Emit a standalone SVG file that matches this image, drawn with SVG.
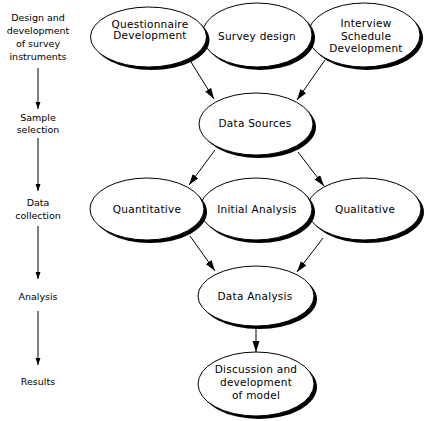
<svg xmlns="http://www.w3.org/2000/svg" width="429" height="421" viewBox="0 0 429 421">
<defs>
<style>
.sh{fill:#000}
.nd{fill:#fff;stroke:#000;stroke-width:1}
.t{font-family:"DejaVu Sans",sans-serif;font-size:10.5px;letter-spacing:0.25px;fill:#000;text-anchor:middle}
.l{font-family:"DejaVu Sans",sans-serif;font-size:9.5px;fill:#000;text-anchor:middle}
.c{stroke:#000;stroke-width:1;fill:none}
</style>
<marker id="ah" markerUnits="userSpaceOnUse" markerWidth="12" markerHeight="8" refX="11" refY="3.5" orient="auto"><path d="M0,0 L11,3.5 L0,7 z" fill="#000"/></marker>
<marker id="as" markerUnits="userSpaceOnUse" markerWidth="8" markerHeight="6" refX="7" refY="2.5" orient="auto"><path d="M0,0 L7,2.5 L0,5 z" fill="#000"/></marker>
</defs>
<rect width="429" height="421" fill="#fff"/>
<g id="stages">
<text class="l" x="38" y="21">Design and</text>
<text class="l" x="38" y="34">development</text>
<text class="l" x="38" y="47">of survey</text>
<text class="l" x="38" y="60">instruments</text>
<text class="l" x="38" y="121">Sample</text>
<text class="l" x="38" y="133">selection</text>
<text class="l" x="38" y="206">Data</text>
<text class="l" x="38" y="219">collection</text>
<text class="l" x="38" y="300">Analysis</text>
<text class="l" x="38" y="385">Results</text>
<line class="c" x1="38" y1="68" x2="38" y2="109" marker-end="url(#as)"/>
<line class="c" x1="38" y1="138" x2="38" y2="191" marker-end="url(#as)"/>
<line class="c" x1="38" y1="226" x2="38" y2="279" marker-end="url(#as)"/>
<line class="c" x1="38" y1="311" x2="38" y2="365" marker-end="url(#as)"/>
</g>
<g id="interview">
<ellipse class="sh" cx="367" cy="38" rx="56" ry="32"/>
<ellipse class="nd" cx="364" cy="35" rx="56" ry="32"/>
<text class="t" x="366" y="27">Interview</text>
<text class="t" x="366" y="40">Schedule</text>
<text class="t" x="366" y="52">Development</text>
</g>
<g id="survey">
<ellipse class="sh" cx="260" cy="38" rx="55" ry="32"/>
<ellipse class="nd" cx="257" cy="35" rx="55" ry="32"/>
<text class="t" x="257" y="40">Survey design</text>
</g>
<g id="questionnaire">
<ellipse class="sh" cx="151.5" cy="40" rx="58" ry="30"/>
<ellipse class="nd" cx="148.5" cy="37" rx="58" ry="30"/>
<text class="t" x="150" y="28">Questionnaire</text>
<text class="t" x="150" y="39">Development</text>
</g>
<g id="datasources">
<ellipse class="sh" cx="259" cy="127" rx="57" ry="31"/>
<ellipse class="nd" cx="256" cy="124" rx="57" ry="31"/>
<text class="t" x="255" y="127">Data Sources</text>
</g>
<g id="qualitative">
<ellipse class="sh" cx="367" cy="212" rx="57" ry="31"/>
<ellipse class="nd" cx="364" cy="209" rx="57" ry="31"/>
<text class="t" x="365" y="213">Qualitative</text>
</g>
<g id="initial">
<ellipse class="sh" cx="259" cy="212" rx="56" ry="31"/>
<ellipse class="nd" cx="256" cy="209" rx="56" ry="31"/>
<text class="t" x="257" y="213">Initial Analysis</text>
</g>
<g id="quantitative">
<ellipse class="sh" cx="150" cy="212" rx="57" ry="31"/>
<ellipse class="nd" cx="147" cy="209" rx="57" ry="31"/>
<text class="t" x="147" y="213">Quantitative</text>
</g>
<g id="dataanalysis">
<ellipse class="sh" cx="259" cy="299" rx="58" ry="30"/>
<ellipse class="nd" cx="256" cy="296" rx="58" ry="30"/>
<text class="t" x="255" y="300">Data Analysis</text>
</g>
<g id="discussion">
<ellipse class="sh" cx="259" cy="387" rx="58" ry="32"/>
<ellipse class="nd" cx="256" cy="384" rx="58" ry="32"/>
<text class="t" x="256" y="373">Discussion and</text>
<text class="t" x="256" y="386">development</text>
<text class="t" x="256" y="399">of model</text>
</g>
<g id="connectors">
<line class="c" x1="191" y1="62" x2="214" y2="99" marker-end="url(#ah)"/>
<line class="c" x1="325" y1="60" x2="297" y2="100" marker-end="url(#ah)"/>
<line class="c" x1="215" y1="150" x2="189" y2="185" marker-end="url(#ah)"/>
<line class="c" x1="298" y1="152" x2="324" y2="186" marker-end="url(#ah)"/>
<line class="c" x1="190" y1="236" x2="215" y2="271" marker-end="url(#ah)"/>
<line class="c" x1="323" y1="238" x2="297" y2="272" marker-end="url(#ah)"/>
<line class="c" x1="256" y1="326" x2="256" y2="352" marker-end="url(#ah)"/>
</g>
</svg>
